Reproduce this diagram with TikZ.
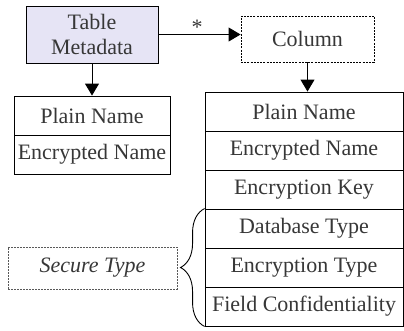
\documentclass[tikz,border=0pt]{standalone}
\usepackage{fontspec}
\setmainfont{Liberation Serif}
\usetikzlibrary{arrows.meta}
\usetikzlibrary{decorations.pathreplacing}
\definecolor{Meta-fill}{RGB}{230,228,245}
\definecolor{Text-gray}{RGB}{55,55,55}

\begin{document}
\begin{tikzpicture}[x=1pt, y=-1pt, font=\fontsize{22}{25}\selectfont, line width=0.9pt, text=Text-gray]
    \useasboundingbox (0,0) rectangle (404,330);

    \node[draw, fill=Meta-fill, inner sep=1pt, minimum height=57pt, minimum width=132pt, align=center] (tbl) at ( 92, 34.5) {Table\\Metadata};
    \node[draw, dash pattern=on 2pt off 1.2pt, inner sep=1pt, minimum height=46pt, minimum width=133pt] (col) at (307.5, 39) {Column};

    \node[draw, inner sep=1pt, minimum height=39pt, minimum width=156pt] (tpn) at ( 92, 115.5) {Plain Name};
    \node[draw, inner sep=1pt, minimum height=39pt, minimum width=156pt] (ten) at ( 92, 154.5) {Encrypted Name};

    \node[draw, inner sep=1pt, minimum height=39pt, minimum width=198pt] (cpn) at (304, 111.5) {Plain Name};
    \node[draw, inner sep=1pt, minimum height=39pt, minimum width=198pt] (cen) at (304, 150.5) {Encrypted Name};
    \node[draw, inner sep=1pt, minimum height=39pt, minimum width=198pt] (cek) at (304, 189.5) {Encryption Key};
    \node[draw, inner sep=1pt, minimum height=39pt, minimum width=198pt] (cdt) at (304, 228.5) {Database Type};
    \node[draw, inner sep=1pt, minimum height=39pt, minimum width=198pt] (cet) at (304, 267.5) {Encryption Type};
    \node[draw, inner sep=1pt, minimum height=39pt, minimum width=198pt] (cfc) at (304, 306.5) {Field Confidentiality};

    \node[draw=black!65, dash pattern=on 2pt off 1pt, inner sep=1pt, minimum height=42pt, minimum width=169pt] (sec) at (92.5, 268) {\itshape Secure Type};

    \draw[->,>={Triangle[length=12pt,width=14pt]}] (tbl.east) -- (tbl.east -| col.west) node [pos=0.47, above, inner sep=0pt] {*};
    \draw[->,>={Triangle[length=12pt,width=14pt]}] (tbl.south) -- (tpn.north);
    \draw[->,>={Triangle[length=12pt,width=14pt]}] (col.south) -- (col.south |- cpn.north);

    \draw[decorate, decoration={brace, amplitude=24pt}] (cfc.south west) -- (cdt.north west);
  \end{tikzpicture}
\end{document}
